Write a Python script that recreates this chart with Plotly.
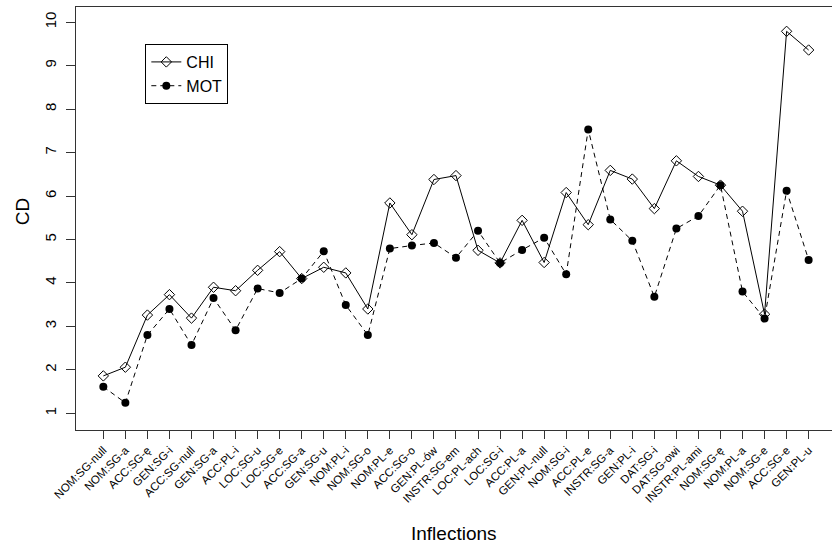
import plotly.graph_objects as go

categories = [
    "NOM:SG-null", "NOM:SG-a", "ACC:SG-ę", "GEN:SG-i", "ACC:SG-null", "GEN:SG-a",
    "ACC:PL-i", "LOC:SG-u", "LOC:SG-e", "ACC:SG-a", "GEN:SG-u", "NOM:PL-i",
    "NOM:SG-o", "NOM:PL-e", "ACC:SG-o", "GEN:PL-ów", "INSTR:SG-em", "LOC:PL-ach",
    "LOC:SG-i", "ACC:PL-a", "GEN:PL-null", "NOM:SG-i", "ACC:PL-e", "INSTR:SG-a",
    "GEN:PL-i", "DAT:SG-i", "DAT:SG-owi", "INSTR:PL-ami", "NOM:SG-ę", "NOM:PL-a",
    "NOM:SG-e", "ACC:SG-e", "GEN:PL-u",
]
chi = [1.86, 2.06, 3.26, 3.73, 3.19, 3.90, 3.82, 4.29, 4.72, 4.10, 4.36, 4.23,
       3.40, 5.84, 5.11, 6.38, 6.47, 4.75, 4.46, 5.44, 4.47, 6.08, 5.34, 6.59,
       6.39, 5.71, 6.81, 6.45, 6.25, 5.65, 3.28, 9.79, 9.36]
mot = [1.61, 1.24, 2.80, 3.40, 2.57, 3.65, 2.91, 3.87, 3.77, 4.10, 4.73, 3.49,
       2.80, 4.79, 4.86, 4.92, 4.58, 5.20, 4.46, 4.76, 5.04, 4.20, 7.53, 5.46,
       4.97, 3.68, 5.25, 5.54, 6.25, 3.80, 3.18, 6.12, 4.53]
y_ticks = [1, 2, 3, 4, 5, 6, 7, 8, 9, 10]

xs = list(range(1, len(categories) + 1))
FONT = "Liberation Sans, Arial, Helvetica, sans-serif"

fig = go.Figure()
fig.add_trace(go.Scatter(
    x=xs, y=chi, name="CHI", mode="lines+markers",
    line=dict(color="black", width=1, dash="solid"),
    marker=dict(symbol="diamond-open", size=8, color="black", line=dict(width=1, color="black")),
))
fig.add_trace(go.Scatter(
    x=xs, y=mot, name="MOT", mode="lines+markers",
    line=dict(color="black", width=1, dash="5px,4px"),
    marker=dict(symbol="circle", size=8, color="black"),
))

fig.update_layout(
    width=832, height=545,
    margin=dict(l=76, r=0, t=7, b=115, autoexpand=False),
    plot_bgcolor="white", paper_bgcolor="white",
    font=dict(family=FONT, color="black"),
    showlegend=True,
    legend=dict(
        x=0.0917, y=0.9125, xanchor="left", yanchor="top",
        bordercolor="black", borderwidth=1, bgcolor="white",
        font=dict(size=16, family=FONT), tracegroupgap=0,
        itemwidth=30,
    ),
    annotations=[
        dict(text="Inflections", xref="paper", yref="paper", x=0.5, y=-0.2435,
             xanchor="center", yanchor="middle", showarrow=False,
             font=dict(size=19, family=FONT)),
        dict(text="CD", xref="paper", yref="paper", x=-0.0714, y=0.515,
             xanchor="center", yanchor="middle", showarrow=False, textangle=-90,
             font=dict(size=19, family=FONT)),
    ],
)
fig.update_xaxes(
    range=[-0.24, 34.06], tickmode="array", tickvals=xs, ticktext=categories,
    tickangle=-45, tickfont=dict(size=11.5, family=FONT), automargin=False,
    showgrid=False, zeroline=False, showline=True, linecolor="#333", linewidth=1,
    mirror=True, ticks="outside", ticklen=8, tickcolor="#333",
)
fig.update_yaxes(
    range=[0.615, 10.35], tickmode="array", tickvals=y_ticks,
    tickangle=-90, tickfont=dict(size=15, family=FONT), automargin=False,
    ticklabelstandoff=4,
    showgrid=False, zeroline=False, showline=True, linecolor="#333", linewidth=1,
    mirror=True, ticks="outside", ticklen=9, tickcolor="#333",
)

fig.write_html(
    "out.html",
    config={"displayModeBar": False},
    post_script="document.body.style.margin='0';document.body.style.overflow='hidden';",
)
